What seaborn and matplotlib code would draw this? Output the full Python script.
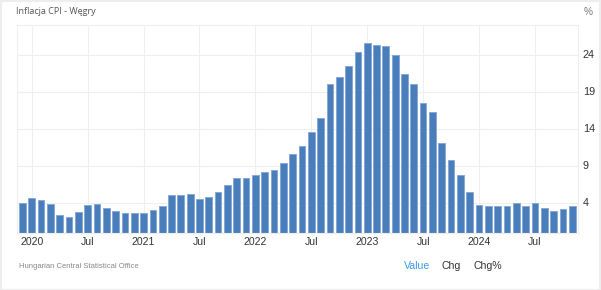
import matplotlib
matplotlib.use("Agg")
import matplotlib.pyplot as plt
import seaborn as sns
import pandas as pd
from matplotlib.patches import Rectangle

# ---- data ----
months = pd.date_range("2019-12-01", "2024-11-01", freq="MS").strftime("%Y-%m").tolist()
cpi = [4.0, 4.7, 4.4, 3.9, 2.4, 2.2, 2.9, 3.8, 3.9, 3.4, 3.0, 2.7,
       2.7, 2.7, 3.1, 3.7, 5.1, 5.1, 5.3, 4.6, 4.9, 5.5, 6.5, 7.4,
       7.4, 7.9, 8.3, 8.5, 9.5, 10.7, 11.7, 13.7, 15.6, 20.1, 21.1, 22.5,
       24.5, 25.7, 25.4, 25.2, 24.0, 21.5, 20.1, 17.6, 16.4, 12.2, 9.9, 7.9,
       5.5, 3.8, 3.7, 3.6, 3.7, 4.0, 3.7, 4.1, 3.4, 3.0, 3.2, 3.7]
tick_months = ["2020-01", "2020-07", "2021-01", "2021-07", "2022-01", "2022-07",
               "2023-01", "2023-07", "2024-01", "2024-07"]
tick_labels = ["2020", "Jul", "2021", "Jul", "2022", "Jul", "2023", "Jul", "2024", "Jul"]
y_ticks = [4, 9, 14, 19, 24]

title = "Inflacja CPI - Węgry"
source = "Hungarian Central Statistical Office"

df = pd.DataFrame({"month": months, "cpi": cpi})

sns.set_theme(style="white")
plt.rcParams["font.family"] = ["Liberation Sans", "DejaVu Sans"]

W, H = 601, 290
fig = plt.figure(figsize=(W / 100, H / 100), dpi=100)
fig.patch.set_facecolor("white")
ax = fig.add_axes([17 / W, 1 - 233 / H, (578 - 17) / W, (233 - 25) / H])

sns.barplot(data=df, x="month", y="cpi", order=months, color="#4a7ebb",
            saturation=1, width=0.72, edgecolor="#86a9d8", linewidth=0.7, ax=ax)

ax.set_xlim(-0.58, 59.62)
ax.set_ylim(0, 28.1)
ax.set_xlabel("")
ax.set_ylabel("")

xt = [months.index(m) for m in tick_months]
ax.set_xticks(xt)
ax.set_xticklabels(tick_labels, fontsize=7.6, color="#333333")
ax.yaxis.tick_right()
ax.set_yticks(y_ticks)
ax.set_yticklabels([str(v) for v in y_ticks], fontsize=7.8, color="#333333",
                   va="center")
ax.tick_params(axis="y", length=0, pad=3.5)
ax.tick_params(axis="x", length=0, pad=3)

ax.set_axisbelow(True)
ax.grid(True, axis="both", color="#efefef", linewidth=0.8)
for s in ["left", "top", "right", "bottom"]:
    ax.spines[s].set_color("#eeeeee")
    ax.spines[s].set_linewidth(0.8)

# texts
fig.text(16 / W, 1 - 12 / H, title, fontsize=6.5, color="#555555",
         family=["Open Sans", "DejaVu Sans"], va="center", ha="left")
fig.text(588 / W, 1 - 12 / H, "%", fontsize=7.2, color="#777777",
         va="center", ha="center")
fig.text(19 / W, 1 - 266 / H, source, fontsize=5.5, color="#888888",
         va="center", ha="left")
fig.text(404 / W, 1 - 266 / H, "Value", fontsize=7.6, color="#3d9be9",
         va="center", ha="left")
fig.text(442 / W, 1 - 266 / H, "Chg", fontsize=7.6, color="#333333",
         va="center", ha="left")
fig.text(473 / W, 1 - 266 / H, "Chg%", fontsize=7.6, color="#333333",
         va="center", ha="left")

fig.patches.append(Rectangle((0.5 / W, 0.5 / H), 1 - 1.5 / W, 1 - 1.5 / H,
                             transform=fig.transFigure, fill=False,
                             edgecolor="#eeeeee", linewidth=1.5))

fig.savefig("out.png", dpi=100)
